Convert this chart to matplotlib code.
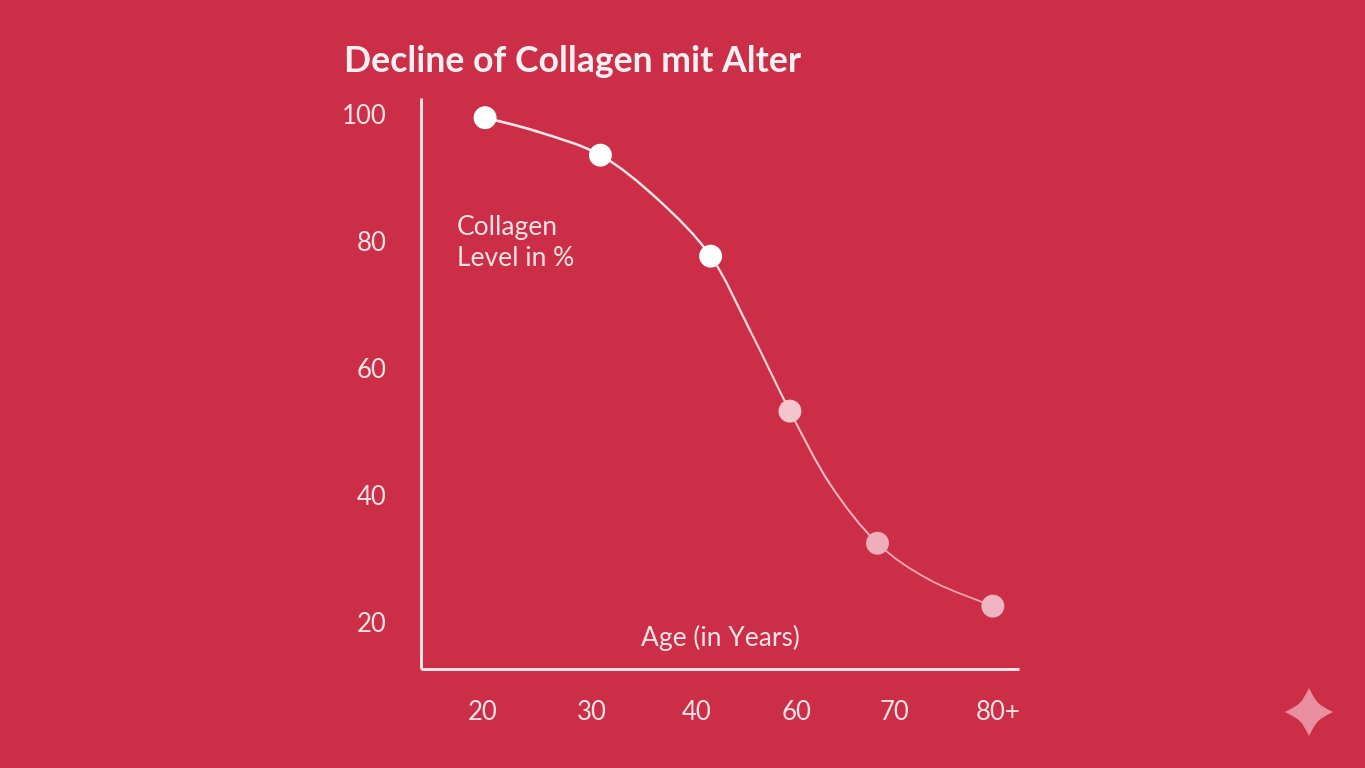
import matplotlib
matplotlib.use("Agg")
import matplotlib.pyplot as plt
from matplotlib.path import Path
from matplotlib.patches import PathPatch

plt.rcParams['font.family'] = ['Lato', 'DejaVu Sans']

BG = '#CD2E47'
W, H = 1365, 768

title = 'Decline of Collagen mit Alter'
y_label_lines = ['Collagen', 'Level in %']
x_label = 'Age (in Years)'

tick_labels = ['20', '30', '40', '60', '70', '80+']
tick_pos = [0, 1.06, 2.07, 3.04, 4, 5]
y_ticks = [20, 40, 60, 80, 100]

point_x = [0.02, 1.14, 2.21, 2.98, 3.83, 4.95]
point_y = [99.4, 93.5, 77.6, 53.2, 32.4, 22.5]
point_colors = ['#FFFFFF', '#FFFFFF', '#FFFFFF', '#F3C6CE', '#EFADB9', '#F0B4C0']

# line: markers plus points between them
curve_x = [0.02, 0.53, 1.14, 1.70, 2.21, 2.59, 2.98, 3.37, 3.83, 4.34, 4.95]
curve_y = [99.4, 97.2, 93.5, 86.5, 77.6, 66.0, 53.2, 41.7, 32.4, 26.6, 22.5]
curve_colors = ['#FCE6EA', '#FCE6EA', '#FCE6EA', '#FCE6EA', '#FADDE2', '#F7CFD6',
                '#F5BFC9', '#F3B3BF', '#F0A4B2', '#F0A4B2']

fig = plt.figure(figsize=(W / 100, H / 100), dpi=100, facecolor=BG)
L, R, T, B = 421, 1019, 98, 669
ax = fig.add_axes([L / W, 1 - B / H, (R - L) / W, (B - T) / H], facecolor='none')
ax.set_xlim(-0.602, 5.204)
ax.set_ylim(12.6, 102.5)

for s in ('top', 'right'):
    ax.spines[s].set_visible(False)
for s in ('left', 'bottom'):
    ax.spines[s].set_color('#FBE6E9')
    ax.spines[s].set_linewidth(2.1)
    ax.spines[s].set_capstyle('butt')

ax.set_xticks(tick_pos)
ax.set_xticklabels(tick_labels)
ax.set_yticks(y_ticks)
ax.tick_params(axis='x', length=0, pad=22, labelsize=18.5, labelcolor='#FBE3E6')
ax.tick_params(axis='y', length=0, pad=25, labelsize=18.5, labelcolor='#FBE3E6')

# Catmull-Rom smoothing of the line through the read points, one span per colour
n = len(curve_x)
for i in range(n - 1):
    i0, i3 = max(i - 1, 0), min(i + 2, n - 1)
    p0 = (curve_x[i0], curve_y[i0])
    p1 = (curve_x[i], curve_y[i])
    p2 = (curve_x[i + 1], curve_y[i + 1])
    p3 = (curve_x[i3], curve_y[i3])
    c1 = (p1[0] + (p2[0] - p0[0]) / 6, p1[1] + (p2[1] - p0[1]) / 6)
    c2 = (p2[0] - (p3[0] - p1[0]) / 6, p2[1] - (p3[1] - p1[1]) / 6)
    path = Path([p1, c1, c2, p2], [Path.MOVETO, Path.CURVE4, Path.CURVE4, Path.CURVE4])
    ax.add_patch(PathPatch(path, fc='none', ec=curve_colors[i],
                           lw=1.9 - 0.07 * i, capstyle='round', zorder=3))

ax.scatter(point_x, point_y, s=16.5 ** 2, c=point_colors, linewidths=0, zorder=4, clip_on=False)

def px(x, y):
    return x / W, 1 - y / H

fig.text(*px(344, 61), title, fontsize=25.7, fontweight='bold', color='#FDF0F2',
         ha='left', va='center')
fig.text(*px(457, 227), y_label_lines[0], fontsize=19, color='#FBE3E6', ha='left', va='center')
fig.text(*px(457, 259), y_label_lines[1], fontsize=19, color='#FBE3E6', ha='left', va='center')
fig.text(*px(720, 638), x_label, fontsize=19, color='#FBE3E6', ha='center', va='center')

# corner sparkle
cx, cy, r = 1309, 712, 24
k = 0.34
verts = [(cx, cy + r),
         (cx + k * r, cy + k * r), (cx + k * r, cy + k * r), (cx + r, cy),
         (cx + k * r, cy - k * r), (cx + k * r, cy - k * r), (cx, cy - r),
         (cx - k * r, cy - k * r), (cx - k * r, cy - k * r), (cx - r, cy),
         (cx - k * r, cy + k * r), (cx - k * r, cy + k * r), (cx, cy + r)]
verts = [(x / W, 1 - y / H) for x, y in verts]
codes = [Path.MOVETO] + [Path.CURVE4] * 12
fig.add_artist(PathPatch(Path(verts, codes), fc='#E8909F', ec='none', transform=fig.transFigure))

fig.savefig('out.png', dpi=100, facecolor=BG)
